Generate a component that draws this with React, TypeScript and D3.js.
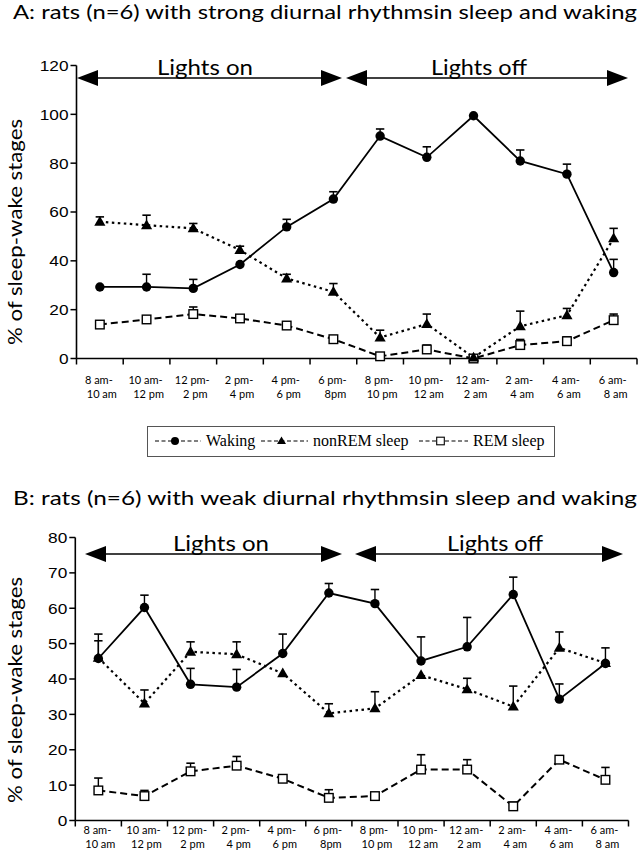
import React from "react";
import * as d3 from "d3";

// ---------- data ----------
const catLine1 = ["8 am-", "10 am-", "12 pm-", "2 pm-", "4 pm-", "6 pm-", "8 pm-", "10 pm-", "12 am-", "2 am-", "4 am-", "6 am-"];
const catLine2 = ["10 am", "12 pm", "2 pm", "4 pm", "6 pm", "8pm", "10 pm", "12 am", "2 am", "4 am", "6 am", "8 am"];
const seriesNames = ["Waking", "nonREM sleep", "REM sleep"];
const lightsLabels = ["Lights on", "Lights off"];

const wakingA = [29.3, 29.3, 28.7, 38.5, 53.9, 65.3, 91.1, 82.4, 99.4, 80.9, 75.5, 35.2];
const wakingAErr = [0, 5.2, 3.7, 0, 3.1, 3, 2.9, 4.3, 0, 4.5, 4.1, 5.4];
const nremA = [56, 54.6, 53.3, 44.4, 32.8, 27.3, 8.6, 14.1, 0.4, 13.2, 17.7, 49.2];
const nremAErr = [2, 4.1, 2, 1.6, 1.7, 3.4, 3, 4.1, 0, 6.2, 2.8, 4.1];
const remA = [13.9, 16, 18.2, 16.4, 13.5, 7.9, 0.9, 3.7, 0, 5.5, 7.1, 15.7];
const remAErr = [0, 0, 2.9, 0, 1.5, 0, 0, 1.8, 0, 2.3, 1.8, 2.5];
const ticksA = [0, 20, 40, 60, 80, 100, 120];

const wakingB = [45.8, 60.2, 38.5, 37.7, 47.2, 64.3, 61.3, 45.1, 49.1, 63.9, 34.3, 44.4];
const wakingBErr = [6.9, 3.5, 4.5, 5, 5.5, 2.7, 4, 6.8, 8.3, 4.9, 4.3, 4.4];
const nremB = [46, 33.1, 47.7, 47, 41.6, 30.3, 31.7, 41.1, 37.1, 32.2, 48.8, 44.5];
const nremBErr = [4.8, 3.8, 2.8, 3.5, 0, 2.7, 4.7, 0, 3.1, 5.8, 4.5, 0];
const remB = [8.5, 6.9, 13.9, 15.5, 11.8, 6.4, 6.9, 14.4, 14.4, 4, 17.2, 11.5];
const remBErr = [3.5, 1.6, 2.3, 2.6, 0, 2.3, 0, 4.2, 2.8, 1.2, 1.1, 3.5];
const ticksB = [0, 10, 20, 30, 40, 50, 60, 70, 80];

const titleA = "A: rats (n=6) with strong diurnal rhythmsin sleep and waking";
const titleB = "B: rats (n=6) with weak diurnal rhythmsin sleep and waking";
const yLabel = "% of sleep-wake stages";

// ---------- styles ----------
const GOTHIC = "Lato, 'Open Sans', sans-serif";
const ARIAL = "'Liberation Sans', Arial, sans-serif";
const TIMES = "'Liberation Serif', 'Times New Roman', serif";

type Geo = {
  x0: number; x1: number; yBot: number; yTop: number; yMax: number;
  ticks: number[];
  title: string; titleY: number;
  arrowY: number; arrows: [number, number, number][]; // left, right, textCenter
  labelY1: number; labelY2: number;
  yLabelCenter: number;
};

const triPath = "M0,-5.8L5.6,4L-5.6,4Z";

function Arrow({ x1, x2, y }: { x1: number; x2: number; y: number }) {
  const hl = 21, hh = 8;
  return (
    <g>
      <line x1={x1 + hl - 1} x2={x2 - hl + 1} y1={y} y2={y} stroke="#000" strokeWidth={1.3} />
      <path d={`M${x1},${y}L${x1 + hl},${y - hh}L${x1 + hl},${y + hh}Z`} fill="#000" />
      <path d={`M${x2},${y}L${x2 - hl},${y - hh}L${x2 - hl},${y + hh}Z`} fill="#000" />
    </g>
  );
}

function Panel({ g, waking, wakingErr, nrem, nremErr, rem, remErr }: {
  g: Geo; waking: number[]; wakingErr: number[]; nrem: number[]; nremErr: number[]; rem: number[]; remErr: number[];
}) {
  const idx = d3.range(12);
  const x = d3.scaleBand<number>().domain(idx).range([g.x0, g.x1]);
  const bw = x.bandwidth();
  const cx = (i: number) => (x(i) as number) + bw / 2;
  const y = d3.scaleLinear().domain([0, g.yMax]).range([g.yBot, g.yTop]);
  const line = d3.line<number>().x((_, i) => cx(i)).y((v) => y(v));

  const errBars = (vals: number[], errs: number[], key: string) =>
    vals.map((v, i) =>
      errs[i] > 0 ? (
        <g key={key + i}>
          <line x1={cx(i)} x2={cx(i)} y1={y(v)} y2={y(v + errs[i])} stroke="#000" strokeWidth={1.4} />
          <line x1={cx(i) - 4.2} x2={cx(i) + 4.2} y1={y(v + errs[i])} y2={y(v + errs[i])} stroke="#000" strokeWidth={1.6} />
        </g>
      ) : null
    );

  const boundaries = d3.range(13).map((k) => g.x0 + k * bw);

  return (
    <g>
      <text x={13} y={g.titleY} fontFamily={GOTHIC} fontSize={19} textLength={624} lengthAdjust="spacingAndGlyphs" fill="#000">
        {g.title}
      </text>
      {/* y label */}
      <text
        transform={`translate(22,${g.yLabelCenter}) rotate(-90)`}
        textAnchor="middle" fontFamily={GOTHIC} fontSize={19} textLength={226} lengthAdjust="spacingAndGlyphs" fill="#000"
      >
        {yLabel}
      </text>
      {/* axes */}
      <line x1={g.x0} x2={g.x0} y1={g.yBot} y2={y(g.yMax)} stroke="#000" strokeWidth={1.6} />
      <line x1={g.x0} x2={g.x1} y1={g.yBot} y2={g.yBot} stroke="#000" strokeWidth={1.6} />
      {g.ticks.map((t) => (
        <g key={"yt" + t}>
          <line x1={g.x0 - 6} x2={g.x0} y1={y(t)} y2={y(t)} stroke="#000" strokeWidth={1.5} />
          <text x={g.x0 - 8} y={y(t)} dy="0.36em" textAnchor="end" fontFamily={ARIAL} fontSize={15}
            textLength={String(t).length * 9.6} lengthAdjust="spacingAndGlyphs" fill="#000">
            {t}
          </text>
        </g>
      ))}
      {boundaries.map((bx, k) => (
        <line key={"xt" + k} x1={bx} x2={bx} y1={g.yBot} y2={g.yBot + 6} stroke="#000" strokeWidth={1.5} />
      ))}
      {idx.map((i) => (
        <g key={"xl" + i} fontFamily={GOTHIC} fontSize={11} fill="#000" textAnchor="middle">
          <text x={cx(i) - 1} y={g.labelY1}>{catLine1[i]}</text>
          <text x={cx(i) + 2} y={g.labelY2}>{catLine2[i]}</text>
        </g>
      ))}
      {/* lights arrows */}
      {g.arrows.map(([l, r, tc], k) => (
        <g key={"ar" + k}>
          <Arrow x1={l} x2={r} y={g.arrowY} />
          <text x={tc} y={g.arrowY - 3} textAnchor="middle" fontFamily={GOTHIC} fontSize={21} textLength={96} lengthAdjust="spacingAndGlyphs" fill="#000">
            {lightsLabels[k]}
          </text>
        </g>
      ))}
      {/* lines */}
      <path d={line(rem) as string} fill="none" stroke="#000" strokeWidth={2} strokeDasharray="7,4" />
      <path d={line(nrem) as string} fill="none" stroke="#000" strokeWidth={2.2} strokeDasharray="2.5,3.5" />
      <path d={line(waking) as string} fill="none" stroke="#000" strokeWidth={1.8} />
      {errBars(rem, remErr, "re")}
      {errBars(nrem, nremErr, "ne")}
      {errBars(waking, wakingErr, "we")}
      {/* markers */}
      {rem.map((v, i) => (
        <rect key={"rm" + i} x={cx(i) - 4.3} y={y(v) - 4.3} width={8.6} height={8.6} fill="#fff" stroke="#000" strokeWidth={1.4} />
      ))}
      {nrem.map((v, i) => (
        <path key={"nm" + i} d={triPath} transform={`translate(${cx(i)},${y(v)})`} fill="#000" />
      ))}
      {waking.map((v, i) => (
        <circle key={"wm" + i} cx={cx(i)} cy={y(v)} r={4.7} fill="#000" />
      ))}
    </g>
  );
}

function Legend() {
  const y = 446;
  const items: { x0: number; x1: number; tx: number; kind: number }[] = [
    { x0: 155, x1: 201, tx: 206, kind: 0 },
    { x0: 261, x1: 308, tx: 313, kind: 1 },
    { x0: 419, x1: 468, tx: 473, kind: 2 },
  ];
  return (
    <g>
      <rect x={147.5} y={426.5} width={407} height={30} fill="#fff" stroke="#555" strokeWidth={1} />
      {items.map((it, k) => {
        const mx = (it.x0 + it.x1) / 2 - 3;
        const my = y - 5;
        return (
          <g key={"lg" + k}>
            <line x1={it.x0} x2={it.x1} y1={my} y2={my} stroke="#000" strokeWidth={1.2} strokeDasharray="4,2.5" />
            {k === 0 && <circle cx={mx} cy={my} r={4} fill="#000" />}
            {k === 1 && <path d="M0,-4.5L4.5,3L-4.5,3Z" transform={`translate(${mx},${my})`} fill="#000" />}
            {k === 2 && <rect x={mx - 3.8} y={my - 3.8} width={7.6} height={7.6} fill="#fff" stroke="#000" strokeWidth={1.1} />}
            <text x={it.tx} y={y} fontFamily={TIMES} fontSize={16} fill="#000">{seriesNames[k]}</text>
          </g>
        );
      })}
    </g>
  );
}

const geoA: Geo = {
  x0: 76.5, x1: 637, yBot: 358.5, yTop: 65.5, yMax: 120, ticks: ticksA,
  title: titleA, titleY: 19,
  arrowY: 78, arrows: [[77, 342, 205], [346, 628, 479]],
  labelY1: 384, labelY2: 398, yLabelCenter: 232,
};
const geoB: Geo = {
  x0: 75.3, x1: 628.5, yBot: 820.5, yTop: 537.5, yMax: 80, ticks: ticksB,
  title: titleB, titleY: 505,
  arrowY: 554, arrows: [[85, 342, 221], [355, 623, 495]],
  labelY1: 834, labelY2: 848, yLabelCenter: 690,
};

export default function App() {
  return (
    <div style={{ position: "absolute", left: 0, top: 0 }}>
      <svg width={638} height={853} viewBox="0 0 638 853" style={{ display: "block", background: "#fff" }}>
        <rect width={638} height={853} fill="#fff" />
        <Panel g={geoA} waking={wakingA} wakingErr={wakingAErr} nrem={nremA} nremErr={nremAErr} rem={remA} remErr={remAErr} />
        <Legend />
        <Panel g={geoB} waking={wakingB} wakingErr={wakingBErr} nrem={nremB} nremErr={nremBErr} rem={remB} remErr={remBErr} />
      </svg>
    </div>
  );
}
